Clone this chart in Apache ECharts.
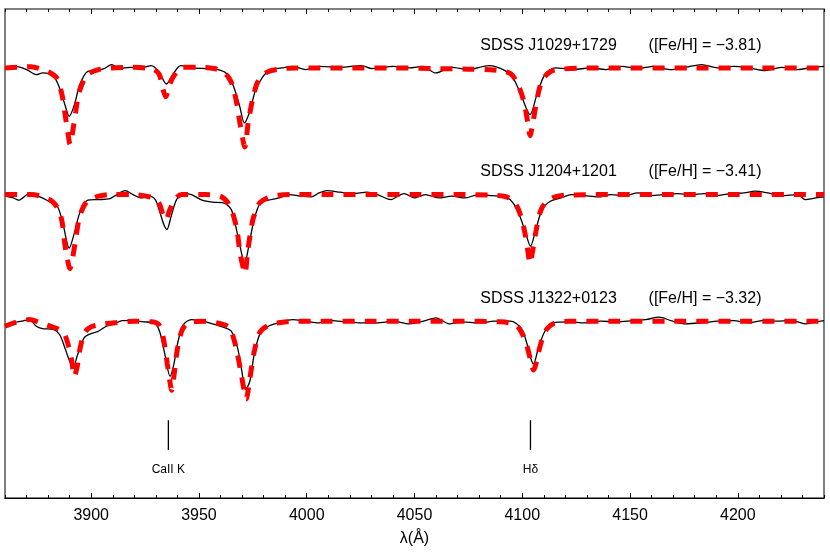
<!DOCTYPE html>
<html>
<head>
<meta charset="utf-8">
<script src="https://cdn.jsdelivr.net/npm/echarts@6/dist/echarts.min.js"></script>
<style>
html, body { margin: 0; padding: 0; background: #fff; }
#spectra { width: 830px; height: 554px; }
</style>
</head>
<body>
<div id="spectra"></div>
<script>
// wavelength (A), normalised flux; observed = black, model = red dashed
var obs1 = [[3860, 1.0], [3865, 1.013], [3870, 0.987], [3874.5, 0.947], [3877.5, 0.96], [3882.5, 0.934], [3885.3, 0.84], [3887.8, 0.707], [3889.8, 0.614], [3892.2, 0.707], [3894.7, 0.867], [3898.4, 0.973], [3902, 0.979], [3906, 0.995], [3909.5, 1.027], [3913, 0.995], [3918, 1.005], [3923, 1.0], [3928, 1.019], [3931.7, 0.96], [3934.9, 0.872], [3937.9, 0.947], [3941.5, 1.019], [3946.5, 1.0], [3954, 0.995], [3958.8, 0.987], [3962.5, 0.96], [3965.7, 0.867], [3968.7, 0.707], [3971.1, 0.561], [3973.6, 0.654], [3976.1, 0.814], [3979.8, 0.934], [3983.5, 0.987], [3988.4, 1.0], [3993.3, 1.013], [3999.5, 0.987], [4005.7, 1.013], [4015.5, 1.005], [4025.4, 1.019], [4030.3, 0.995], [4040.2, 1.013], [4047.6, 1.0], [4053.8, 1.013], [4059.9, 0.96], [4067.3, 1.005], [4074.7, 0.987], [4084.6, 1.019], [4092, 0.979], [4095.7, 0.92], [4099.4, 0.787], [4103.6, 0.628], [4106.8, 0.787], [4110.5, 0.947], [4115.4, 1.0], [4124, 0.987], [4131.4, 1.0], [4138.8, 0.987], [4146.2, 1.013], [4153.6, 0.995], [4161, 1.013], [4168.4, 0.987], [4175.8, 1.005], [4183.2, 1.027], [4190.6, 1.0], [4198, 1.013], [4205.4, 1.0], [4212.8, 0.979], [4220.2, 1.005], [4227.6, 0.987], [4235, 1.005], [4240, 1.013]];
var mod1 = [[3860, 1.0], [3866, 1.005], [3872, 1.01], [3877, 0.99], [3881, 0.96], [3884, 0.92], [3886.4, 0.79], [3887.8, 0.64], [3889.2, 0.48], [3890.2, 0.39], [3891.3, 0.48], [3892.8, 0.65], [3894.3, 0.8], [3896.5, 0.9], [3898.5, 0.95], [3903, 0.985], [3909, 1.0], [3919, 1.005], [3928.6, 0.99], [3931.5, 0.95], [3933.3, 0.83], [3934.6, 0.77], [3936.2, 0.86], [3938.5, 0.94], [3942, 1.005], [3950, 1.005], [3957, 0.995], [3961, 0.97], [3963.5, 0.93], [3965.6, 0.86], [3967.6, 0.71], [3969.2, 0.54], [3971.3, 0.37], [3972.8, 0.56], [3975, 0.76], [3976.8, 0.87], [3978.4, 0.92], [3982, 0.97], [3987, 0.99], [3995, 1.0], [4005, 1.0], [4020, 1.0], [4040, 1.0], [4060, 0.995], [4075, 0.99], [4085, 0.985], [4091, 0.975], [4094.5, 0.955], [4097.4, 0.89], [4100.6, 0.74], [4102.6, 0.56], [4103.6, 0.46], [4104.8, 0.55], [4106.3, 0.7], [4108, 0.84], [4109.5, 0.91], [4113, 0.97], [4118, 0.99], [4130, 1.0], [4150, 1.0], [4180, 1.0], [4210, 1.0], [4240, 1.0]];

var obs2 = [[3860, 0.987], [3863.9, 0.973], [3866.3, 0.955], [3871.3, 1.008], [3876.2, 0.981], [3881.1, 0.939], [3884.3, 0.907], [3886.8, 0.774], [3889.8, 0.574], [3892.2, 0.694], [3894.7, 0.854], [3898.4, 0.955], [3903.3, 0.96], [3908.3, 0.965], [3911.9, 1.0], [3915.7, 1.032], [3919.4, 1.0], [3923.1, 0.973], [3926.8, 0.987], [3929.7, 0.96], [3931.7, 0.867], [3933.7, 0.761], [3935.1, 0.721], [3937.1, 0.827], [3939.6, 0.96], [3942.8, 1.008], [3946.5, 1.0], [3951.4, 0.955], [3956.3, 0.939], [3961.3, 0.934], [3965, 0.88], [3967.4, 0.721], [3969.9, 0.521], [3971.1, 0.441], [3973.1, 0.588], [3975.6, 0.801], [3978.5, 0.934], [3982.2, 0.955], [3987.2, 0.973], [3992.1, 1.0], [3997, 0.987], [4002, 0.981], [4005.7, 1.013], [4009.4, 1.032], [4015.5, 1.019], [4021.7, 1.008], [4027.9, 1.019], [4032.8, 1.0], [4039, 0.96], [4045.1, 1.008], [4050.1, 0.973], [4055, 1.0], [4061.2, 0.973], [4067.3, 0.987], [4073.5, 0.973], [4079.6, 1.0], [4085.8, 0.992], [4092, 0.981], [4095.7, 0.934], [4098.9, 0.827], [4101.8, 0.681], [4103.8, 0.588], [4106.3, 0.721], [4109.2, 0.88], [4113, 0.947], [4117.9, 0.973], [4122.8, 1.0], [4129, 0.992], [4135.1, 0.981], [4141.3, 1.0], [4147.5, 0.992], [4153.6, 1.013], [4159.8, 0.992], [4166, 1.0], [4172.1, 1.008], [4178.3, 1.0], [4184.5, 1.008], [4190.6, 0.992], [4196.8, 1.008], [4203, 1.013], [4207.9, 1.027], [4214.1, 1.013], [4220.2, 0.992], [4227.6, 1.0], [4231.3, 0.96], [4236.3, 0.973], [4240, 0.981]];
var mod2 = [[3860, 1.0], [3866, 1.0], [3872, 1.0], [3877, 0.985], [3881.8, 0.947], [3884.5, 0.89], [3886.4, 0.79], [3887.8, 0.6], [3889, 0.48], [3890.1, 0.41], [3891.2, 0.48], [3892.5, 0.61], [3894.3, 0.8], [3896.3, 0.9], [3898.5, 0.95], [3903, 0.985], [3909, 1.0], [3919, 1.0], [3928.6, 0.975], [3931.5, 0.93], [3933.3, 0.84], [3934.6, 0.8], [3936.5, 0.88], [3938.8, 0.96], [3942, 1.0], [3953, 1.0], [3960, 0.985], [3963.4, 0.935], [3965.5, 0.86], [3967.6, 0.72], [3969, 0.54], [3970.2, 0.44], [3971.3, 0.37], [3972.7, 0.56], [3975, 0.8], [3976.7, 0.88], [3978.2, 0.935], [3982, 0.975], [3987, 0.995], [3995, 1.0], [4010, 1.0], [4030, 1.0], [4050, 1.0], [4070, 1.0], [4085, 0.995], [4092, 0.985], [4095, 0.96], [4098, 0.89], [4100.8, 0.73], [4102.6, 0.55], [4103.6, 0.45], [4104.8, 0.55], [4106.5, 0.72], [4108.5, 0.87], [4110.5, 0.93], [4114, 0.975], [4120, 0.995], [4140, 1.0], [4170, 1.0], [4200, 1.0], [4240, 1.0]];

var obs3 = [[3860, 0.96], [3863.9, 0.987], [3867.6, 1.0], [3871.3, 1.013], [3874.5, 0.96], [3877.4, 0.941], [3882.4, 0.934], [3885.3, 0.894], [3887.8, 0.787], [3890.3, 0.668], [3891.7, 0.641], [3893.7, 0.734], [3896.7, 0.867], [3899.6, 0.899], [3903.3, 0.92], [3907, 0.96], [3910.7, 0.979], [3914.4, 1.005], [3919.4, 1.005], [3924.3, 0.995], [3929.2, 0.987], [3931.7, 0.92], [3934.2, 0.734], [3936.6, 0.561], [3938.3, 0.654], [3940.3, 0.84], [3942.8, 0.973], [3946.5, 1.013], [3951.4, 1.0], [3956.3, 0.979], [3961.3, 0.952], [3965, 0.92], [3967.9, 0.787], [3969.9, 0.601], [3971.6, 0.455], [3973.6, 0.521], [3975.6, 0.734], [3978.5, 0.907], [3982.2, 0.96], [3987.2, 0.987], [3993.3, 1.013], [3999.5, 1.0], [4005.7, 0.987], [4011.8, 1.005], [4018, 0.995], [4025.4, 0.987], [4032.8, 0.987], [4040.2, 1.0], [4047.6, 0.979], [4055, 1.005], [4059.9, 1.027], [4066.1, 0.979], [4072.2, 0.995], [4079.6, 0.987], [4087.1, 1.0], [4094.5, 1.0], [4099.4, 0.947], [4102.3, 0.814], [4104, 0.7], [4105.2, 0.66], [4107.5, 0.787], [4110.5, 0.92], [4114.2, 0.987], [4121.6, 0.995], [4129, 0.987], [4136.4, 1.0], [4143.8, 0.995], [4151.2, 1.005], [4157.3, 1.013], [4163.5, 1.032], [4169.7, 1.0], [4175.8, 0.979], [4183.2, 0.987], [4190.6, 1.0], [4198, 1.005], [4205.4, 0.987], [4211.6, 1.005], [4217.7, 1.0], [4225.2, 1.005], [4231.3, 0.979], [4236.3, 0.995], [4240, 1.005]];
var mod3 = [[3860, 0.96], [3865, 0.99], [3871.3, 1.013], [3876, 0.99], [3881, 0.96], [3885, 0.935], [3887.5, 0.9], [3889.5, 0.8], [3891, 0.68], [3892.2, 0.56], [3893.4, 0.63], [3894.8, 0.78], [3897, 0.91], [3900, 0.955], [3905, 0.975], [3912, 0.99], [3920, 1.0], [3928, 0.995], [3931.5, 0.97], [3933.5, 0.86], [3935.3, 0.66], [3936.5, 0.52], [3937.3, 0.45], [3938.5, 0.58], [3940.2, 0.8], [3942.5, 0.94], [3946, 0.995], [3953, 1.0], [3960, 0.98], [3963.8, 0.955], [3965.8, 0.88], [3967.6, 0.76], [3969.8, 0.56], [3971, 0.44], [3971.9, 0.38], [3973, 0.47], [3974.3, 0.62], [3975.8, 0.77], [3978.2, 0.91], [3982, 0.965], [3988, 0.99], [3995, 1.0], [4010, 1.0], [4030, 1.0], [4050, 1.0], [4070, 1.0], [4090, 0.995], [4097, 0.97], [4100, 0.9], [4102.2, 0.8], [4104, 0.68], [4105.2, 0.61], [4106.2, 0.65], [4107.5, 0.75], [4109.5, 0.87], [4111.5, 0.94], [4115, 0.985], [4122, 1.0], [4140, 1.0], [4170, 1.0], [4200, 1.0], [4240, 1.0]];

var offsets = [2.43, 1.42, 0.41];
var starNames = ['SDSS J1029+1729', 'SDSS J1204+1201', 'SDSS J1322+0123'];
var fehValues = ['\u22123.81', '\u22123.41', '\u22123.32'];

var tickLabels = [3900, 3950, 4000, 4050, 4100, 4150, 4200];
var lineWaves = [3935.8, 4103.8];
var lineNames = ['CaII K', 'H\u03b4'];

var font = "'Liberation Sans', Arial, Helvetica, sans-serif";
var xMin = 3860, xMax = 4240;

function shift(data, off) {
    return data.map(function (p) { return [p[0], p[1] + off]; });
}

var observed = [obs1, obs2, obs3];
var models = [mod1, mod2, mod3];

var series = [];
observed.forEach(function (d, i) {
    series.push({
        type: 'line', data: shift(d, offsets[i]), showSymbol: false, smooth: 0.3,
        lineStyle: {color: '#000', width: 1.3}, z: 2, silent: true
    });
});
models.forEach(function (d, i) {
    series.push({
        type: 'line', data: shift(d, offsets[i]), showSymbol: false, smooth: 0.3,
        lineStyle: {color: '#ff0000', width: 5, type: [12, 10], cap: 'butt'}, z: 3, silent: true
    });
});
lineWaves.forEach(function (w) {
    series.push({
        type: 'line', data: [[w, 0.62], [w, 0.383]], showSymbol: false,
        lineStyle: {color: '#000', width: 1.3}, z: 2, silent: true
    });
});

function tickAxis(pos, len, custom) {
    var ax = {
        type: 'value', min: xMin, max: xMax, interval: 10, position: pos,
        axisLine: {show: false},
        axisTick: {show: true, inside: true, length: len, lineStyle: {color: '#000', width: 1}},
        axisLabel: {show: false},
        splitLine: {show: false}
    };
    if (custom) ax.axisTick.customValues = custom;
    return ax;
}

var mainAxis = tickAxis('bottom', 3);
mainAxis.axisLine = {show: true, lineStyle: {color: '#000', width: 1.2}};
mainAxis.axisLabel = {
    show: true, customValues: tickLabels, margin: 10, fontSize: 16, color: '#000', fontFamily: font,
    formatter: function (v) { return String(v); }
};
mainAxis.name = '\u03bb(\u00c5)';
mainAxis.nameLocation = 'middle';
mainAxis.nameGap = 33;
mainAxis.nameTextStyle = {fontSize: 16, color: '#000', fontFamily: font};

var option = {
    animation: false,
    backgroundColor: '#fff',
    grid: {left: 5, right: 6, top: 9, bottom: 56, show: true, borderColor: '#555', borderWidth: 1.5},
    xAxis: [mainAxis, tickAxis('bottom', 5, tickLabels), tickAxis('top', 3), tickAxis('top', 5, tickLabels)],
    yAxis: {type: 'value', min: 0, max: 3.9, show: false},
    series: series
};

var myChart = echarts.init(document.getElementById('spectra'));
myChart.setOption(option);

// star labels and line identifications, placed in data space
var graphics = [];
starNames.forEach(function (name, i) {
    var y = offsets[i] + 1.18;
    var pl = myChart.convertToPixel({gridIndex: 0}, [4080.5, y]);
    var pr = myChart.convertToPixel({gridIndex: 0}, [4211, y]);
    graphics.push({type: 'text', x: pl[0], y: pl[1], style: {text: name, font: '16px ' + font, fill: '#000', textAlign: 'left', textVerticalAlign: 'middle'}});
    graphics.push({type: 'text', x: pr[0], y: pr[1], style: {text: '([Fe/H] = ' + fehValues[i] + ')', font: '16px ' + font, fill: '#000', textAlign: 'right', textVerticalAlign: 'middle'}});
});
lineNames.forEach(function (name, i) {
    var p = myChart.convertToPixel({gridIndex: 0}, [lineWaves[i], 0.225]);
    graphics.push({type: 'text', x: p[0], y: p[1], style: {text: name, font: '12px ' + font, fill: '#000', textAlign: 'center', textVerticalAlign: 'middle'}});
});
myChart.setOption({graphic: graphics});
</script>
</body>
</html>
